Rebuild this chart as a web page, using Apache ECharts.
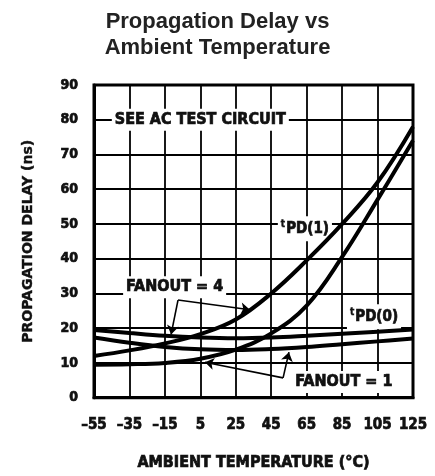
<!DOCTYPE html>
<html>
<head>
<meta charset="utf-8">
<script src="https://cdn.jsdelivr.net/npm/echarts@6/dist/echarts.min.js"></script>
<style>
  html, body { margin: 0; padding: 0; background: #fff; }
  #chart { width: 435px; height: 476px; }
</style>
</head>
<body>
<div id="chart"></div>
<script>
// ambient temperature (°C) and propagation delay (ns)
const temps = [-55, -35, -15, 5, 25, 45, 65, 85, 105, 125];
const fanout4Tpd0 = [19.5, 18.6, 17.8, 17.3, 17.1, 17.3, 17.8, 18.4, 19.0, 19.6];
const fanout1Tpd0 = [17.3, 15.8, 14.6, 13.9, 13.7, 14.0, 14.6, 15.4, 16.2, 17.0];
const fanout4Tpd1 = [12.0, 13.6, 15.6, 18.3, 22.5, 30.0, 39.5, 50.0, 62.0, 78.0];
const fanout1Tpd1 = [9.5, 9.6, 10.0, 11.2, 13.8, 18.5, 26.5, 40.5, 57.0, 74.0];

// annotations, in data coordinates
const notes = [
  [5, 80, 'SEE AC TEST CIRCUIT'],
  [-9.5, 31.8, 'FANOUT = 4'],
  [86, 4.5, 'FANOUT = 1'],
  [64, 48.6, '{t|t}{m|PD(1)}'],
  [103, 23.3, '{t|t}{m|PD(0)}']
];
const arrows = [
  [[-7.6, 28.1], [33, 25.3]],
  [[-7.6, 28.1], [-11.5, 18.2]],
  [[51.7, 5.7], [7.6, 10.2]],
  [[51.7, 5.7], [55, 13.1]]
];

const FONT = '"DejaVu Sans Condensed", "Liberation Sans Narrow", "DejaVu Sans", sans-serif';
const INK = '#111';

// heavy lettering like the datasheet
function heavy(size, extra) {
  return Object.assign({
    fontFamily: FONT, fontWeight: 'bold', fontSize: size, color: INK,
    textBorderColor: INK, textBorderWidth: 0.7
  }, extra || {});
}

function pairs(ys) {
  return temps.map((t, i) => [t, ys[i]]);
}

function curve(name, ys) {
  return {
    name: name,
    type: 'line',
    data: pairs(ys),
    smooth: 0.4,
    symbol: 'none',
    lineStyle: { color: '#000', width: 4 },
    z: 3
  };
}

const chart = echarts.init(document.getElementById('chart'));
chart.setOption({
  backgroundColor: '#fff',
  animation: false,
  title: {
    text: 'Propagation Delay vs\nAmbient Temperature',
    left: 'center',
    top: 4,
    textStyle: {
      fontFamily: '"Liberation Sans", Arial, sans-serif',
      fontWeight: 'bold',
      fontSize: 22,
      lineHeight: 26,
      color: '#222'
    }
  },
  grid: {
    left: 94, right: 22, top: 85, bottom: 74,
    show: true,
    borderColor: '#000',
    borderWidth: 3
  },
  xAxis: {
    type: 'value',
    min: -55, max: 125, interval: 20,
    name: 'AMBIENT TEMPERATURE (°C)',
    nameLocation: 'middle',
    nameGap: 57,
    nameTextStyle: heavy(16),
    axisLine: { show: true, onZero: false, lineStyle: { color: '#000', width: 3 } },
    axisTick: { show: false },
    axisLabel: Object.assign(heavy(15), {
      margin: 20,
      formatter: v => (v < 0 ? '–' + Math.abs(v) : String(v))
    }),
    splitLine: { show: true, lineStyle: { color: '#000', width: 1.8 } }
  },
  yAxis: {
    type: 'value',
    min: 0, max: 90, interval: 10,
    name: 'PROPAGATION DELAY (ns)',
    nameLocation: 'middle',
    nameRotate: 90,
    nameGap: 59,
    nameTextStyle: heavy(14, { fontFamily: '"DejaVu Sans", sans-serif', textBorderWidth: 0.4 }),
    axisLine: { show: true, onZero: false, lineStyle: { color: '#000', width: 3 } },
    axisTick: { show: false },
    axisLabel: Object.assign(heavy(14), { margin: 16 }),
    splitLine: { show: true, lineStyle: { color: '#000', width: 1.8 } }
  },
  series: [
    curve('tPD(0) fanout 4', fanout4Tpd0),
    curve('tPD(0) fanout 1', fanout1Tpd0),
    curve('tPD(1) fanout 4', fanout4Tpd1),
    curve('tPD(1) fanout 1', fanout1Tpd1),
    {
      name: 'arrows',
      type: 'lines',
      coordinateSystem: 'cartesian2d',
      symbol: ['none', 'arrow'],
      symbolSize: [0, 9],
      lineStyle: { color: '#000', width: 1.6, opacity: 1 },
      data: arrows.map(a => ({ coords: a })),
      z: 4
    },
    {
      name: 'notes',
      type: 'scatter',
      symbolSize: 0,
      itemStyle: { opacity: 1 },
      data: notes,
      z: 2,
      label: Object.assign(heavy(16), {
        show: true,
        position: 'inside',
        opacity: 1,
        formatter: p => p.data[2],
        backgroundColor: '#fff',
        padding: [3, 3],
        rich: {
          t: heavy(10, { padding: [0, 1, 9, 0], textBorderWidth: 0.4 }),
          m: heavy(15)
        }
      }),
      emphasis: { disabled: true }
    }
  ]
});
</script>
</body>
</html>
